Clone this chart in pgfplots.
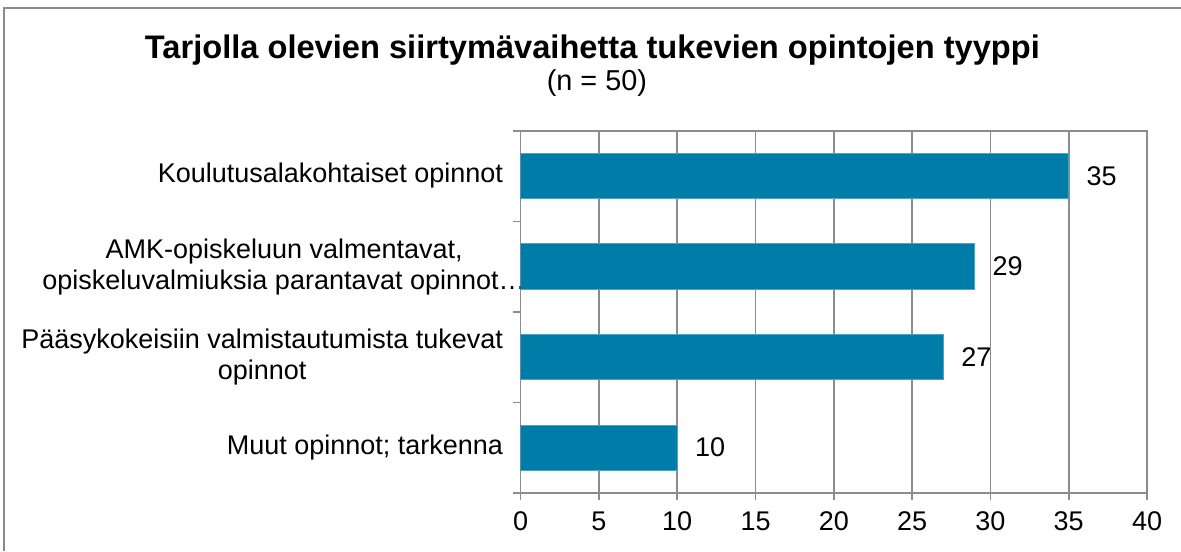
\documentclass[border=0pt]{standalone}
\usepackage{fontspec}
\setmainfont{Liberation Sans}
\usepackage{pgfplots}
\pgfplotsset{compat=1.18}
\definecolor{barcol}{HTML}{007CA8}
\definecolor{gridcol}{HTML}{8C8C8C}
\definecolor{framecol}{HTML}{8A8A8A}
\begin{document}
\begin{tikzpicture}
\useasboundingbox (0,0) rectangle (524.9pt,244.9pt);
\draw[framecol, line width=0.7pt] (1.8pt,0) -- (1.8pt,241.3pt) -- (524.9pt,241.3pt);
\node[font=\fontsize{14.5}{16}\selectfont\bfseries, anchor=base, inner sep=0pt] at (263.3pt,219pt) {Tarjolla olevien siirtymävaihetta tukevien opintojen tyyppi};
\node[font=\fontsize{12.8}{14}\selectfont, anchor=base, inner sep=0pt] at (265.3pt,204.9pt) {(n = 50)};
\begin{axis}[
  at={(231.4pt,25.8pt)}, anchor=south west,
  scale only axis, width=278.4pt, height=161pt,
  xmin=0, xmax=40, ymin=-0.5, ymax=3.5, y dir=reverse,
  /pgf/number format/assume math mode=true,
  xtick={0,5,...,40},
  ytick={0,1,2,3},
  yticklabels={{Koulutusalakohtaiset opinnot},{AMK-opiskeluun valmentavat,\hspace*{-10.1pt}\\opiskeluvalmiuksia parantavat opinnot…\hspace*{-10.1pt}},{Pääsykokeisiin valmistautumista tukevat\\opinnot},{Muut opinnot; tarkenna}},
  minor ytick={-0.5,0.5,1.5,2.5,3.5},
  tick align=outside,
  xtick pos=lower, ytick pos=left,
  major tick length=3.1pt, minor tick length=3.5pt,
  major y tick style={draw=none},
  tick style={gridcol, line width=0.7pt},
  axis line style={gridcol, line width=0.7pt},
  xmajorgrids=true,
  major grid style={gridcol, line width=0.7pt},
  ticklabel style={font=\fontsize{12}{13.8}\selectfont, text=black},
  yticklabel style={align=center, xshift=-1.2pt},
  xticklabel style={yshift=-1.8pt},
]
\addplot[xbar, bar width=0.5, fill=barcol, draw=barcol!70!white, line width=0.4pt,
  point meta=x, nodes near coords,
  nodes near coords style={anchor=west, xshift=4.4pt, font=\fontsize{12}{14}\selectfont, text=black}]
  coordinates {(35,0) (29,1) (27,2) (10,3)};
\end{axis}
\end{tikzpicture}
\end{document}
